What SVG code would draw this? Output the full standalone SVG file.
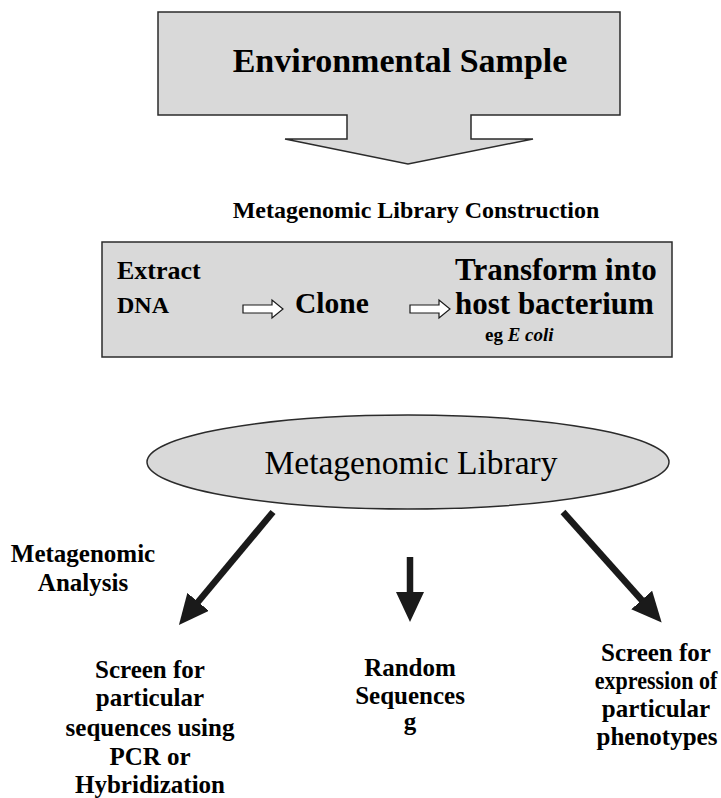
<svg xmlns="http://www.w3.org/2000/svg" width="721" height="798" viewBox="0 0 721 798">
<style>
.shape{fill:#d9d9d9;stroke:#2b2b2b;stroke-width:1.5}
.b{font-family:"Liberation Serif","Times New Roman",serif;font-weight:bold;fill:#000}
.r{font-family:"Liberation Serif","Times New Roman",serif;fill:#000}
.mid{text-anchor:middle}
.conn{stroke:#1a1a1a;stroke-width:6.5;fill:none}
.hollow{fill:#fff;stroke:#1a1a1a;stroke-width:1.2}
</style>
<defs>
<marker id="head" viewBox="0 0 30 28" refX="8" refY="14" markerWidth="30" markerHeight="28" markerUnits="userSpaceOnUse" orient="auto">
<path d="M0,0 L30,14 L0,28 Z" fill="#1a1a1a"/>
</marker>
</defs>

<g id="environmental-sample">
<path class="shape" d="M158,12 H620 V115 H471 V139 H533 L408,164 L285,139 H347 V115 H158 Z"/>
<text class="b mid" x="400" y="72" font-size="34">Environmental Sample</text>
</g>

<g id="construction-label">
<text class="b mid" x="416" y="218" font-size="24">Metagenomic Library Construction</text>
</g>

<g id="construction-box">
<rect class="shape" x="102" y="242" width="570" height="115"/>
<text class="b" x="117" y="279" font-size="26">Extract</text>
<text class="b" x="117" y="313" font-size="24">DNA</text>
<path class="hollow" d="M243,305 H272 V300 L283,309 L272,318 V313 H243 Z"/>
<text class="b" x="295" y="313" font-size="29.5">Clone</text>
<path class="hollow" d="M410,305 H439 V300 L450,309 L439,318 V313 H410 Z"/>
<text class="b" x="455" y="280" font-size="31">Transform into</text>
<text class="b" x="455" y="314" font-size="31">host bacterium</text>
<text class="b" x="485" y="341" font-size="19">eg <tspan font-style="italic">E coli</tspan></text>
</g>

<g id="metagenomic-library">
<ellipse class="shape" cx="408" cy="462" rx="261" ry="47"/>
<text class="r mid" x="411" y="474" font-size="33.5">Metagenomic Library</text>
</g>

<g id="analysis-label">
<text class="b mid" x="83" y="562" font-size="25">Metagenomic</text>
<text class="b mid" x="83" y="591" font-size="25">Analysis</text>
</g>

<g id="connectors">
<line class="conn" x1="273" y1="512" x2="193" y2="608" marker-end="url(#head)"/>
<line class="conn" x1="410" y1="557" x2="410" y2="600" marker-end="url(#head)"/>
<line class="conn" x1="563" y1="512" x2="647" y2="606" marker-end="url(#head)"/>
</g>

<g id="screen-sequences">
<text class="b mid" x="150" y="678" font-size="25">Screen for</text>
<text class="b mid" x="150" y="706" font-size="25">particular</text>
<text class="b mid" x="150" y="736" font-size="25">sequences using</text>
<text class="b mid" x="150" y="765" font-size="25">PCR or</text>
<text class="b mid" x="150" y="793" font-size="25">Hybridization</text>
</g>

<g id="random-sequences">
<text class="b mid" x="410" y="676" font-size="25">Random</text>
<text class="b mid" x="410" y="704" font-size="25">Sequences</text>
<text class="b mid" x="410" y="730" font-size="25">g</text>
</g>

<g id="screen-phenotypes">
<text class="b mid" x="656" y="661" font-size="25">Screen for</text>
<text class="b mid" x="745.5" y="689" font-size="25" transform="scale(0.88,1)">expression of</text>
<text class="b mid" x="656" y="717" font-size="25">particular</text>
<text class="b mid" x="657" y="745" font-size="25">phenotypes</text>
</g>
</svg>
